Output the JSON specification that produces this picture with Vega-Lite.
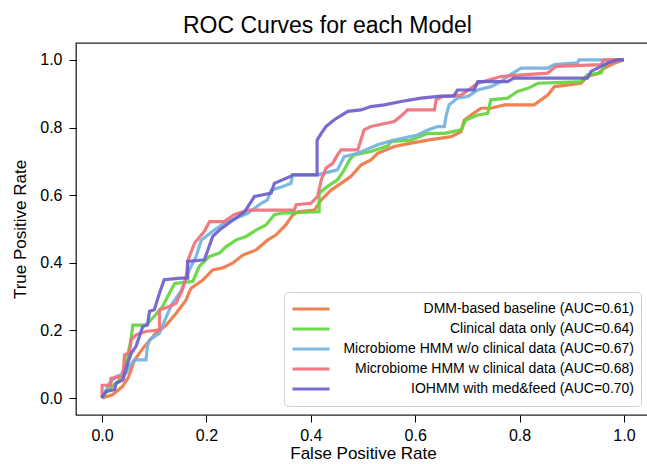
{
  "$schema": "https://vega.github.io/schema/vega-lite/v6.json",
  "autosize": {"type": "none"},
  "padding": {"left": 76, "top": 43, "right": -3, "bottom": 49},
  "width": 574,
  "height": 372,
  "background": "white",
  "title": {"text": "ROC Curves for each Model", "font": "Liberation Sans", "fontSize": 23, "fontWeight": "normal", "color": "#000", "anchor": "start", "frame": "group", "dx": 107, "baseline": "alphabetic", "offset": -13},
  "config": {
    "view": {"stroke": "#222", "strokeWidth": 1.3},
    "axis": {"domain": false, "grid": false, "tickColor": "#000", "tickSize": 7, "tickWidth": 1, "labelFont": "Liberation Sans", "labelFontSize": 16, "labelColor": "#000", "titleFont": "Liberation Sans", "titleFontSize": 17, "titleFontWeight": "normal", "titleColor": "#000"}
  },
  "datasets": {
    "names": [
      {"k": "d", "model": "DMM-based baseline (AUC=0.61)"},
      {"k": "c", "model": "Clinical data only (AUC=0.64)"},
      {"k": "b", "model": "Microbiome HMM w/o clinical data (AUC=0.67)"},
      {"k": "r", "model": "Microbiome HMM w clinical data (AUC=0.68)"},
      {"k": "p", "model": "IOHMM with med&feed (AUC=0.70)"}
    ],
    "roc": [
      {"k":"d","x":0,"y":0},{"k":"d","x":0.02,"y":0.01},{"k":"d","x":0.039,"y":0.034},{"k":"d","x":0.05,"y":0.06},{"k":"d","x":0.062,"y":0.112},{"k":"d","x":0.078,"y":0.147},{"k":"d","x":0.103,"y":0.192},{"k":"d","x":0.123,"y":0.216},{"k":"d","x":0.142,"y":0.251},{"k":"d","x":0.161,"y":0.29},{"k":"d","x":0.17,"y":0.324},{"k":"d","x":0.193,"y":0.349},{"k":"d","x":0.212,"y":0.379},{"k":"d","x":0.231,"y":0.385},{"k":"d","x":0.25,"y":0.399},{"k":"d","x":0.27,"y":0.423},{"k":"d","x":0.295,"y":0.438},{"k":"d","x":0.317,"y":0.467},{"k":"d","x":0.333,"y":0.482},{"k":"d","x":0.352,"y":0.512},{"k":"d","x":0.365,"y":0.541},{"k":"d","x":0.375,"y":0.551},{"k":"d","x":0.407,"y":0.556},{"k":"d","x":0.42,"y":0.586},{"k":"d","x":0.439,"y":0.615},{"k":"d","x":0.458,"y":0.635},{"k":"d","x":0.477,"y":0.656},{"k":"d","x":0.496,"y":0.689},{"k":"d","x":0.515,"y":0.704},{"k":"d","x":0.528,"y":0.724},{"k":"d","x":0.56,"y":0.744},{"k":"d","x":0.592,"y":0.754},{"k":"d","x":0.624,"y":0.763},{"k":"d","x":0.669,"y":0.773},{"k":"d","x":0.688,"y":0.788},{"k":"d","x":0.694,"y":0.822},{"k":"d","x":0.707,"y":0.837},{"k":"d","x":0.726,"y":0.857},{"k":"d","x":0.745,"y":0.857},{"k":"d","x":0.771,"y":0.867},{"k":"d","x":0.828,"y":0.867},{"k":"d","x":0.854,"y":0.896},{"k":"d","x":0.867,"y":0.921},{"k":"d","x":0.918,"y":0.931},{"k":"d","x":0.93,"y":0.951},{"k":"d","x":0.95,"y":0.96},{"k":"d","x":0.962,"y":0.975},{"k":"d","x":0.981,"y":0.99},{"k":"d","x":1,"y":1},
      {"k":"c","x":0,"y":0},{"k":"c","x":0.011,"y":0.024},{"k":"c","x":0.033,"y":0.053},{"k":"c","x":0.046,"y":0.103},{"k":"c","x":0.055,"y":0.17},{"k":"c","x":0.059,"y":0.216},{"k":"c","x":0.084,"y":0.216},{"k":"c","x":0.1,"y":0.242},{"k":"c","x":0.116,"y":0.271},{"k":"c","x":0.126,"y":0.301},{"k":"c","x":0.139,"y":0.339},{"k":"c","x":0.174,"y":0.345},{"k":"c","x":0.186,"y":0.389},{"k":"c","x":0.206,"y":0.419},{"k":"c","x":0.225,"y":0.429},{"k":"c","x":0.238,"y":0.448},{"k":"c","x":0.257,"y":0.468},{"k":"c","x":0.276,"y":0.478},{"k":"c","x":0.295,"y":0.497},{"k":"c","x":0.314,"y":0.512},{"k":"c","x":0.33,"y":0.542},{"k":"c","x":0.343,"y":0.547},{"k":"c","x":0.416,"y":0.551},{"k":"c","x":0.416,"y":0.606},{"k":"c","x":0.432,"y":0.626},{"k":"c","x":0.451,"y":0.645},{"k":"c","x":0.464,"y":0.675},{"k":"c","x":0.474,"y":0.704},{"k":"c","x":0.483,"y":0.719},{"k":"c","x":0.515,"y":0.729},{"k":"c","x":0.547,"y":0.745},{"k":"c","x":0.554,"y":0.759},{"k":"c","x":0.592,"y":0.763},{"k":"c","x":0.624,"y":0.783},{"k":"c","x":0.656,"y":0.783},{"k":"c","x":0.688,"y":0.793},{"k":"c","x":0.697,"y":0.822},{"k":"c","x":0.72,"y":0.837},{"k":"c","x":0.739,"y":0.842},{"k":"c","x":0.745,"y":0.882},{"k":"c","x":0.777,"y":0.887},{"k":"c","x":0.796,"y":0.907},{"k":"c","x":0.816,"y":0.916},{"k":"c","x":0.835,"y":0.931},{"k":"c","x":0.918,"y":0.936},{"k":"c","x":0.93,"y":0.956},{"k":"c","x":0.956,"y":0.961},{"k":"c","x":0.962,"y":0.981},{"k":"c","x":0.975,"y":1},{"k":"c","x":1,"y":1},
      {"k":"b","x":0,"y":0},{"k":"b","x":0.014,"y":0.044},{"k":"b","x":0.027,"y":0.064},{"k":"b","x":0.046,"y":0.074},{"k":"b","x":0.052,"y":0.094},{"k":"b","x":0.062,"y":0.113},{"k":"b","x":0.084,"y":0.113},{"k":"b","x":0.087,"y":0.153},{"k":"b","x":0.091,"y":0.172},{"k":"b","x":0.11,"y":0.192},{"k":"b","x":0.126,"y":0.251},{"k":"b","x":0.135,"y":0.281},{"k":"b","x":0.151,"y":0.315},{"k":"b","x":0.167,"y":0.379},{"k":"b","x":0.18,"y":0.418},{"k":"b","x":0.19,"y":0.467},{"k":"b","x":0.215,"y":0.497},{"k":"b","x":0.234,"y":0.517},{"k":"b","x":0.279,"y":0.546},{"k":"b","x":0.305,"y":0.576},{"k":"b","x":0.317,"y":0.586},{"k":"b","x":0.324,"y":0.615},{"k":"b","x":0.345,"y":0.625},{"k":"b","x":0.362,"y":0.635},{"k":"b","x":0.365,"y":0.66},{"k":"b","x":0.413,"y":0.66},{"k":"b","x":0.451,"y":0.675},{"k":"b","x":0.464,"y":0.714},{"k":"b","x":0.49,"y":0.724},{"k":"b","x":0.528,"y":0.749},{"k":"b","x":0.56,"y":0.763},{"k":"b","x":0.605,"y":0.778},{"k":"b","x":0.624,"y":0.793},{"k":"b","x":0.643,"y":0.803},{"k":"b","x":0.656,"y":0.803},{"k":"b","x":0.659,"y":0.833},{"k":"b","x":0.665,"y":0.867},{"k":"b","x":0.681,"y":0.887},{"k":"b","x":0.701,"y":0.892},{"k":"b","x":0.72,"y":0.911},{"k":"b","x":0.745,"y":0.921},{"k":"b","x":0.764,"y":0.936},{"k":"b","x":0.777,"y":0.951},{"k":"b","x":0.803,"y":0.976},{"k":"b","x":0.854,"y":0.976},{"k":"b","x":0.867,"y":0.986},{"k":"b","x":0.911,"y":0.991},{"k":"b","x":0.914,"y":1},{"k":"b","x":1,"y":1},
      {"k":"r","x":0,"y":0},{"k":"r","x":0,"y":0.038},{"k":"r","x":0.017,"y":0.038},{"k":"r","x":0.017,"y":0.058},{"k":"r","x":0.04,"y":0.064},{"k":"r","x":0.043,"y":0.128},{"k":"r","x":0.052,"y":0.133},{"k":"r","x":0.056,"y":0.173},{"k":"r","x":0.065,"y":0.187},{"k":"r","x":0.084,"y":0.197},{"k":"r","x":0.11,"y":0.202},{"k":"r","x":0.11,"y":0.261},{"k":"r","x":0.129,"y":0.271},{"k":"r","x":0.142,"y":0.281},{"k":"r","x":0.155,"y":0.325},{"k":"r","x":0.161,"y":0.36},{"k":"r","x":0.165,"y":0.409},{"k":"r","x":0.177,"y":0.458},{"k":"r","x":0.196,"y":0.493},{"k":"r","x":0.206,"y":0.522},{"k":"r","x":0.234,"y":0.522},{"k":"r","x":0.253,"y":0.542},{"k":"r","x":0.279,"y":0.556},{"k":"r","x":0.368,"y":0.556},{"k":"r","x":0.372,"y":0.572},{"k":"r","x":0.4,"y":0.576},{"k":"r","x":0.413,"y":0.596},{"k":"r","x":0.42,"y":0.645},{"k":"r","x":0.429,"y":0.68},{"k":"r","x":0.442,"y":0.694},{"k":"r","x":0.451,"y":0.719},{"k":"r","x":0.458,"y":0.734},{"k":"r","x":0.49,"y":0.734},{"k":"r","x":0.496,"y":0.763},{"k":"r","x":0.502,"y":0.793},{"k":"r","x":0.515,"y":0.803},{"k":"r","x":0.56,"y":0.818},{"k":"r","x":0.579,"y":0.842},{"k":"r","x":0.585,"y":0.852},{"k":"r","x":0.637,"y":0.852},{"k":"r","x":0.64,"y":0.882},{"k":"r","x":0.653,"y":0.892},{"k":"r","x":0.688,"y":0.896},{"k":"r","x":0.72,"y":0.931},{"k":"r","x":0.764,"y":0.951},{"k":"r","x":0.854,"y":0.961},{"k":"r","x":0.87,"y":0.981},{"k":"r","x":0.956,"y":0.986},{"k":"r","x":0.962,"y":1},{"k":"r","x":1,"y":1},
      {"k":"p","x":0,"y":0},{"k":"p","x":0.001,"y":0.005},{"k":"p","x":0.008,"y":0.02},{"k":"p","x":0.024,"y":0.025},{"k":"p","x":0.027,"y":0.044},{"k":"p","x":0.04,"y":0.054},{"k":"p","x":0.049,"y":0.103},{"k":"p","x":0.056,"y":0.133},{"k":"p","x":0.065,"y":0.153},{"k":"p","x":0.078,"y":0.212},{"k":"p","x":0.087,"y":0.217},{"k":"p","x":0.091,"y":0.257},{"k":"p","x":0.1,"y":0.261},{"k":"p","x":0.11,"y":0.31},{"k":"p","x":0.119,"y":0.35},{"k":"p","x":0.151,"y":0.355},{"k":"p","x":0.164,"y":0.355},{"k":"p","x":0.164,"y":0.404},{"k":"p","x":0.196,"y":0.409},{"k":"p","x":0.212,"y":0.478},{"k":"p","x":0.225,"y":0.497},{"k":"p","x":0.247,"y":0.522},{"k":"p","x":0.273,"y":0.551},{"k":"p","x":0.292,"y":0.596},{"k":"p","x":0.324,"y":0.606},{"k":"p","x":0.33,"y":0.635},{"k":"p","x":0.362,"y":0.656},{"k":"p","x":0.365,"y":0.66},{"k":"p","x":0.412,"y":0.66},{"k":"p","x":0.412,"y":0.763},{"k":"p","x":0.42,"y":0.783},{"k":"p","x":0.429,"y":0.803},{"k":"p","x":0.445,"y":0.823},{"k":"p","x":0.471,"y":0.848},{"k":"p","x":0.496,"y":0.852},{"k":"p","x":0.515,"y":0.862},{"k":"p","x":0.541,"y":0.867},{"k":"p","x":0.573,"y":0.877},{"k":"p","x":0.611,"y":0.887},{"k":"p","x":0.649,"y":0.893},{"k":"p","x":0.674,"y":0.893},{"k":"p","x":0.681,"y":0.911},{"k":"p","x":0.713,"y":0.911},{"k":"p","x":0.72,"y":0.936},{"k":"p","x":0.777,"y":0.936},{"k":"p","x":0.789,"y":0.946},{"k":"p","x":0.93,"y":0.946},{"k":"p","x":0.937,"y":0.966},{"k":"p","x":0.969,"y":0.991},{"k":"p","x":0.988,"y":1},{"k":"p","x":1,"y":1}
    ]
  },
  "data": {"name": "roc"},
  "transform": [
    {"lookup": "k", "from": {"data": {"name": "names"}, "key": "k", "fields": ["model"]}}
  ],
  "mark": {"type": "line", "strokeWidth": 3.2, "opacity": 0.92},
  "encoding": {
    "x": {"field": "x", "type": "quantitative", "scale": {"domain": [-0.05, 1.05], "nice": false, "zero": false},
      "axis": {"title": "False Positive Rate", "values": [0, 0.2, 0.4, 0.6, 0.8, 1], "format": ".1f", "labelPadding": 5, "titlePadding": 2}},
    "y": {"field": "y", "type": "quantitative", "scale": {"domain": [-0.05, 1.05], "nice": false, "zero": false},
      "axis": {"title": "True Positive Rate", "values": [0, 0.2, 0.4, 0.6, 0.8, 1], "format": ".1f", "labelPadding": 7, "titlePadding": 10}},
    "color": {"field": "model", "type": "nominal",
      "scale": {"domain": ["DMM-based baseline (AUC=0.61)", "Clinical data only (AUC=0.64)", "Microbiome HMM w/o clinical data (AUC=0.67)", "Microbiome HMM w clinical data (AUC=0.68)", "IOHMM with med&feed (AUC=0.70)"],
        "range": ["#EE7744", "#62D63C", "#73B2DE", "#F0707A", "#6C60CC"]},
      "legend": {"title": null, "orient": "bottom-right", "offset": 9, "symbolType": "stroke", "symbolSize": 1369, "symbolStrokeWidth": 3, "labelAlign": "right", "labelOffset": 303, "labelLimit": 400, "labelFont": "Liberation Sans", "labelFontSize": 14, "labelColor": "#000", "fillColor": "white", "strokeColor": "#d0d0d0", "cornerRadius": 4, "padding": 7, "rowPadding": 0, "clipHeight": 20}},
    "order": [{"field": "x", "type": "quantitative"}, {"field": "y", "type": "quantitative"}]
  }
}
